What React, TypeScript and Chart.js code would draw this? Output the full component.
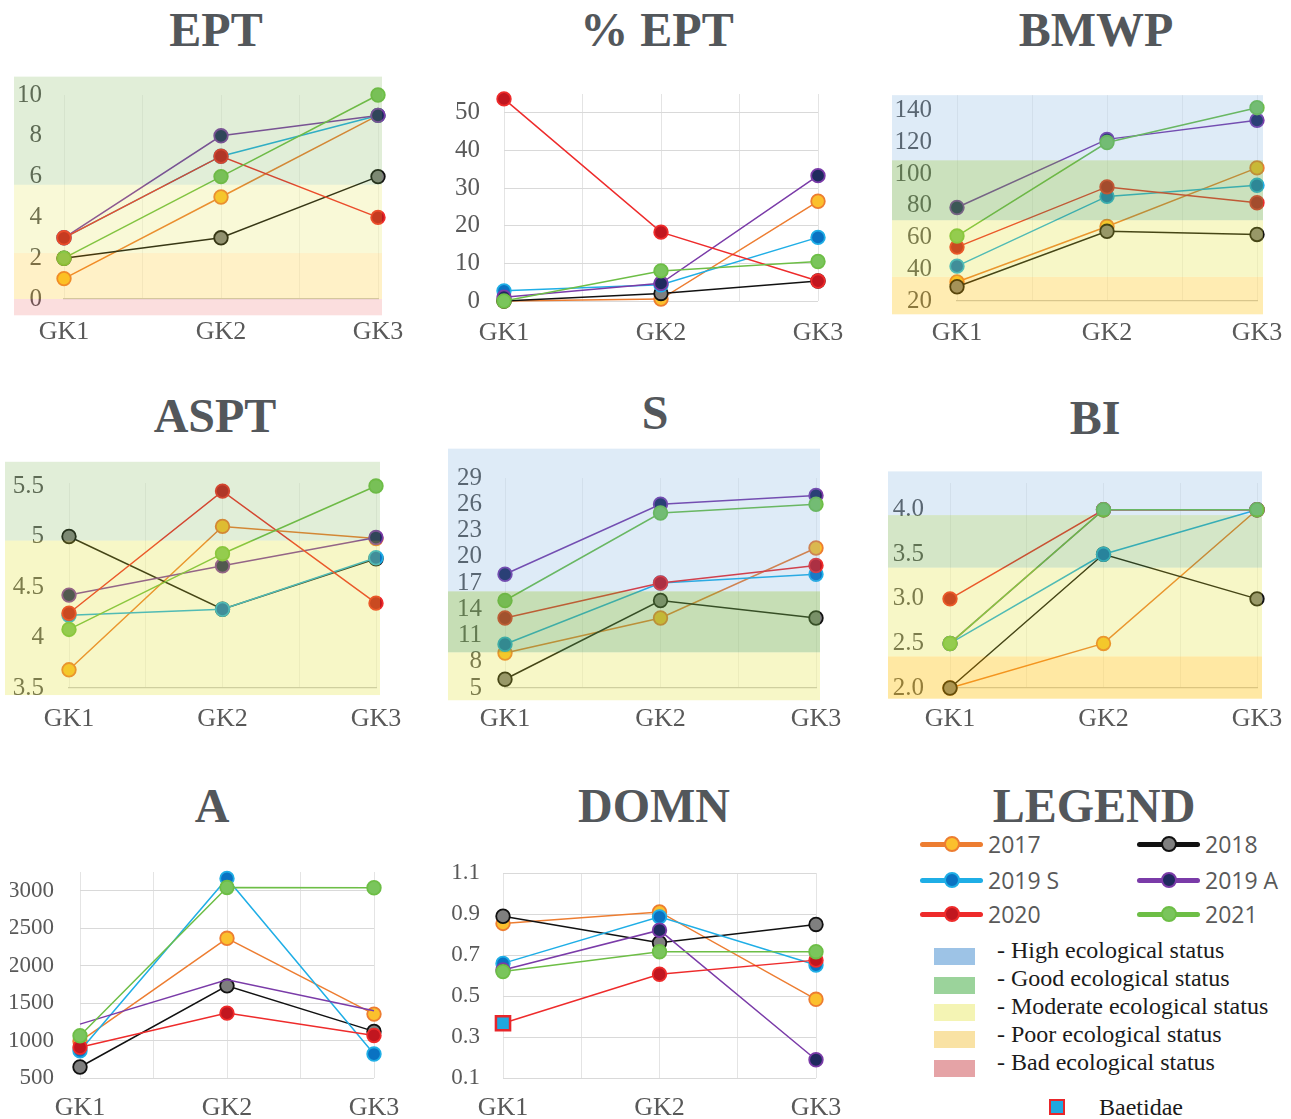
import React, { useEffect, useRef } from "react";
import { Chart, registerables } from "chart.js";

Chart.register(...registerables);

// ---------- data ----------
const categories = ["GK1", "GK2", "GK3"];
const seriesNames = ["2017", "2018", "2019 S", "2019 A", "2020", "2021"];
const lineColors = ["#ED7D31", "#111111", "#1FAEE6", "#7A3BA8", "#EE2B2B", "#6DBE46"];
const pointColors = ["#FBC02D", "#7F7F7F", "#0A72C2", "#1F2A5E", "#C1161F", "#7AC55C"];
const baetidaeFill = "#1FA8E0";
const baetidaeBorder = "#E8262B";

// order of rows: 2017, 2018, 2019 S, 2019 A, 2020, 2021
const eptValues = [[1, 5, 9], [2, 3, 6], [3, 7, 9], [3, 8, 9], [3, 7, 4], [2, 6, 10]];
const eptTicks = [0, 2, 4, 6, 8, 10];

const pctEptValues = [[0, 0.5, 26.5], [0, 2, 5.3], [2.7, 4.3, 16.9], [1, 4.7, 33.3], [53.7, 18.3, 5.3], [0, 8, 10.5]];
const pctEptTicks = [0, 10, 20, 30, 40, 50];

const bmwpValues = [[32, 67, 104], [29, 64, 62], [42, 86, 93], [79, 122, 134], [54, 92, 82], [61, 120, 142]];
const bmwpTicks = [20, 40, 60, 80, 100, 120, 140];

const asptValues = [[3.68, 5.1, 4.98], [5.0, 4.28, 4.78], [4.22, 4.28, 4.79], [4.42, 4.71, 4.99], [4.24, 5.45, 4.34], [4.08, 4.83, 5.5]];
const asptTicks = [3.5, 4, 4.5, 5, 5.5];

const sValues = [[9, 13, 21], [6, 15, 13], [10, 17, 18], [18, 26, 27], [13, 17, 19], [15, 25, 26]];
const sTicks = [5, 8, 11, 14, 17, 20, 23, 26, 29];

const biValues = [[2, 2.5, 4], [2, 3.5, 3], [2.5, 3.5, 4], [2.5, 4, 4], [3, 4, 4], [2.5, 4, 4]];
const biTicks = [2, 2.5, 3, 3.5, 4];

const aValues = [[990, 2365, 1353], [647, 1730, 1122], [864, 3164, 820], [1219, 1810, 1397], [910, 1366, 1068], [1064, 3044, 3040]];
const aTicks = [500, 1000, 1500, 2000, 2500, 3000];

const domnValues = [[0.854, 0.91, 0.484], [0.889, 0.76, 0.849], [0.659, 0.886, 0.651], [0.627, 0.821, 0.189], [0.367, 0.606, 0.675], [0.619, 0.716, 0.716]];
const domnTicks = [0.1, 0.3, 0.5, 0.7, 0.9, 1.1];

const statusLabels = [
  "- High ecological status",
  "- Good ecological status",
  "- Moderate ecological status",
  "- Poor ecological status",
  "- Bad ecological status",
];
const statusSwatch = ["#9DC3E6", "#9BD39B", "#F4F4B4", "#F9E2A4", "#E5A3A6"];
const bandHues = [
  [91, 155, 213],
  [112, 173, 71],
  [225, 225, 40],
  [255, 192, 0],
  [230, 60, 60],
];

// status band limits (status index, from, to, opacity)
const eptBands = [
  { s: 4, from: -0.8, to: 0, a: 0.17 },
  { s: 3, from: 0, to: 2.25, a: 0.22 },
  { s: 2, from: 2.25, to: 5.6, a: 0.19 },
  { s: 1, from: 5.6, to: 10.9, a: 0.21 },
];
const bmwpBands = [
  { s: 3, from: 11.6, to: 35.2, a: 0.3 },
  { s: 2, from: 35.2, to: 71, a: 0.26 },
  { s: 1, from: 71, to: 108.8, a: 0.36 },
  { s: 0, from: 108.8, to: 149.9, a: 0.2 },
];
const asptBands = [
  { s: 2, from: 3.43, to: 4.96, a: 0.26 },
  { s: 1, from: 4.96, to: 5.74, a: 0.21 },
];
const sBands = [
  { s: 2, from: 3.6, to: 9.08, a: 0.26 },
  { s: 1, from: 9.08, to: 16.05, a: 0.4 },
  { s: 0, from: 16.05, to: 32.35, a: 0.2 },
];
const biBands = [
  { s: 3, from: 1.88, to: 2.355, a: 0.36 },
  { s: 2, from: 2.355, to: 3.35, a: 0.26 },
  { s: 1, from: 3.35, to: 3.94, a: 0.3 },
  { s: 0, from: 3.94, to: 4.43, a: 0.2 },
];

// ---------- layout ----------
type BandDef = { s: number; from: number; to: number; a: number };
type PanelDef = {
  title: string;
  titleX: number;
  titleY: number;
  values: number[][];
  ticks: number[];
  min: number;
  max: number;
  decimals: number;
  area: number[];
  bandX: number[];
  bands: BandDef[];
  gridded: boolean;
  tickSize: number;
  yPad: number;
  xPad: number;
  baetidae?: boolean;
  hidden?: number[];
};

const panels: PanelDef[] = [
  { title: "EPT", titleX: 216, titleY: 30, values: eptValues, ticks: eptTicks, min: 0, max: 10, decimals: -1, area: [64, 378, 95, 299], bandX: [14, 382], bands: eptBands, gridded: false, tickSize: 25, yPad: 22, xPad: 18 },
  { title: "% EPT", titleX: 657, titleY: 30, values: pctEptValues, ticks: pctEptTicks, min: 0, max: 55, decimals: -1, area: [504, 818, 94, 301], bandX: [0, 0], bands: [], gridded: true, tickSize: 25, yPad: 24, xPad: 17 },
  { title: "BMWP", titleX: 1096, titleY: 30, values: bmwpValues, ticks: bmwpTicks, min: 20, max: 150, decimals: -1, area: [957, 1257, 95, 301], bandX: [892, 1263], bands: bmwpBands, gridded: false, tickSize: 25, yPad: 25, xPad: 17 },
  { title: "ASPT", titleX: 215, titleY: 416, values: asptValues, ticks: asptTicks, min: 3.5, max: 5.53, decimals: -1, area: [69, 376, 483, 688], bandX: [5, 380], bands: asptBands, gridded: false, tickSize: 25, yPad: 25, xPad: 16 },
  { title: "S", titleX: 655, titleY: 413, values: sValues, ticks: sTicks, min: 5, max: 29, decimals: -1, area: [505, 816, 478, 688], bandX: [448, 820], bands: sBands, gridded: false, tickSize: 25, yPad: 23, xPad: 16 },
  { title: "BI", titleX: 1095, titleY: 418, values: biValues, ticks: biTicks, min: 2, max: 4.3, decimals: 1, area: [950, 1257, 483, 688], bandX: [888, 1262], bands: biBands, gridded: false, tickSize: 25, yPad: 26, xPad: 16 },
  { title: "A", titleX: 212, titleY: 806, values: aValues, ticks: aTicks, min: 500, max: 3250, decimals: -1, area: [80, 374, 872, 1078], bandX: [0, 0], bands: [], gridded: true, tickSize: 23, yPad: 26, xPad: 15, hidden: [3] },
  { title: "DOMN", titleX: 654, titleY: 806, values: domnValues, ticks: domnTicks, min: 0.1, max: 1.1, decimals: 1, area: [503, 816, 873, 1078], bandX: [0, 0], bands: [], gridded: true, tickSize: 23, yPad: 23, xPad: 15, baetidae: true },
];

const SERIF = '"Liberation Serif", "Times New Roman", serif';
const TICK_COLOR = "#595959";

function PanelChart({ p }: { p: PanelDef }) {
  const ref = useRef<HTMLCanvasElement | null>(null);
  const [x0, x1, y0, y1] = p.area;
  const left = Math.max(0, x0 - 70);
  const right = Math.min(1291, x1 + 36);
  const top = y0 - 30;
  const bottom = Math.min(1119, y1 + 42);
  const w = right - left;
  const h = bottom - top;

  useEffect(() => {
    const canvas = ref.current;
    if (!canvas) return;
    const xTicks: number[] = [];
    categories.forEach((_, i) => {
      xTicks.push(i + 1);
      if (i < categories.length - 1) xTicks.push(i + 1.5);
    });
    const datasets = seriesNames.map((name, i) => {
      const isB = !!p.baetidae && i === 4;
      const hide = !!p.hidden && p.hidden.includes(i);
      return {
        label: name,
        data: p.values[i].map((v, j) => ({ x: j + 1, y: v })),
        borderColor: lineColors[i],
        borderWidth: 1.5,
        pointBackgroundColor: categories.map((_, j) => (isB && j === 0 ? baetidaeFill : pointColors[i])),
        pointBorderColor: categories.map((_, j) => (isB && j === 0 ? baetidaeBorder : lineColors[i])),
        pointBorderWidth: categories.map((_, j) => (isB && j === 0 ? 2.5 : 1.8)),
        pointRadius: categories.map((_, j) => (hide ? 0 : isB && j === 0 ? 10 : 6.8)),
        pointStyle: categories.map((_, j) => (isB && j === 0 ? "rect" : "circle")),
        order: seriesNames.length - 1 - i,
        tension: 0,
        fill: false,
        clip: false as any,
      };
    });
    const bandPlugin = {
      id: "statusBands",
      afterDraw(chart: any) {
        const ctx = chart.ctx;
        const ys = chart.scales.y;
        ctx.save();
        p.bands.forEach((b) => {
          const ya = ys.getPixelForValue(b.to);
          const yb = ys.getPixelForValue(b.from);
          const c = bandHues[b.s];
          ctx.fillStyle = `rgba(${c[0]},${c[1]},${c[2]},${b.a})`;
          ctx.fillRect(p.bandX[0] - left, ya, p.bandX[1] - p.bandX[0], yb - ya);
        });
        ctx.restore();
      },
    };
    const chart = new Chart(canvas, {
      type: "line",
      data: { datasets: datasets as any },
      options: {
        animation: false,
        responsive: false,
        events: [],
        layout: { padding: { left: 0, right: right - x1, top: y0 - top, bottom: 0 } },
        plugins: {
          legend: { display: false },
          tooltip: { enabled: false },
          title: { display: false },
        },
        scales: {
          x: {
            type: "linear",
            min: 1,
            max: categories.length,
            afterBuildTicks: (s: any) => {
              s.ticks = xTicks.map((v) => ({ value: v }));
            },
            afterFit: (s: any) => {
              s.height = bottom - y1;
            },
            ticks: {
              autoSkip: false,
              maxRotation: 0,
              padding: 0,
              color: TICK_COLOR,
              font: { family: SERIF, size: 26 },
              callback: (v: any) => (Number.isInteger(v) ? categories[v - 1] : ""),
            },
            grid: {
              color: p.gridded ? "#E4E4E4" : "rgba(0,0,0,0.06)",
              lineWidth: 1,
              drawTicks: true,
              tickLength: p.xPad,
              tickColor: "rgba(0,0,0,0)",
            },
            border: { display: !p.gridded, color: "#C9C9C9", width: 1.2 },
          },
          y: {
            type: "linear",
            min: p.min,
            max: p.max,
            afterBuildTicks: (s: any) => {
              s.ticks = p.ticks.map((v) => ({ value: v }));
            },
            afterFit: (s: any) => {
              s.width = x0 - left;
            },
            ticks: {
              autoSkip: false,
              padding: 0,
              color: TICK_COLOR,
              font: { family: SERIF, size: p.tickSize },
              callback: (v: any) => (p.decimals >= 0 ? Number(v).toFixed(p.decimals) : String(v)),
            },
            grid: {
              display: true,
              drawOnChartArea: p.gridded,
              color: "#D9D9D9",
              lineWidth: 1,
              drawTicks: true,
              tickLength: p.yPad,
              tickColor: "rgba(0,0,0,0)",
            },
            border: { display: false },
          },
        },
      },
      plugins: [bandPlugin],
    });
    return () => chart.destroy();
  }, []);

  return (
    <canvas
      ref={ref}
      width={w}
      height={h}
      style={{ position: "absolute", left, top, width: w, height: h }}
    />
  );
}

function Title({ text, cx, cy }: { text: string; cx: number; cy: number }) {
  return (
    <div
      style={{
        position: "absolute",
        left: cx - 200,
        top: cy - 24,
        width: 400,
        textAlign: "center",
        font: `bold 48px ${SERIF}`,
        lineHeight: "48px",
        color: "#53575B",
        whiteSpace: "nowrap",
      }}
    >
      {text}
    </div>
  );
}

const legendCols = [920, 1137];
const legendRows = [844, 880, 914];
const statusRows = [956, 985, 1012, 1039, 1068];
const statusTextRows = [950, 978, 1006, 1034, 1062];

export default function App() {
  return (
    <div
      style={{
        position: "absolute",
        left: 0,
        top: 0,
        width: 1291,
        height: 1119,
        overflow: "hidden",
        background: "#ffffff",
      }}
    >
      {panels.map((p) => (
        <PanelChart key={p.title} p={p} />
      ))}
      {panels.map((p) => (
        <Title key={"t" + p.title} text={p.title} cx={p.titleX} cy={p.titleY} />
      ))}
      <Title text="LEGEND" cx={1094} cy={806} />
      {seriesNames.map((name, i) => {
        const lx = legendCols[i % 2];
        const ly = legendRows[Math.floor(i / 2)];
        return (
          <React.Fragment key={"lg" + name}>
            <div
              style={{
                position: "absolute",
                left: lx,
                top: ly - 2.5,
                width: 63,
                height: 5,
                borderRadius: 2.5,
                background: lineColors[i],
              }}
            />
            <div
              style={{
                position: "absolute",
                left: lx + 32 - 8,
                top: ly - 8,
                width: 16,
                height: 16,
                boxSizing: "border-box",
                border: `2px solid ${lineColors[i]}`,
                borderRadius: "50%",
                background: pointColors[i],
              }}
            />
            <div
              style={{
                position: "absolute",
                left: lx + 68,
                top: ly - 12,
                font: '23px "Open Sans", sans-serif',
                lineHeight: "24px",
                color: "#595959",
                whiteSpace: "nowrap",
              }}
            >
              {name}
            </div>
          </React.Fragment>
        );
      })}
      {statusLabels.map((label, i) => (
        <React.Fragment key={"st" + i}>
          <div
            style={{
              position: "absolute",
              left: 934,
              top: statusRows[i] - 8.5,
              width: 41,
              height: 17,
              background: statusSwatch[i],
            }}
          />
          <div
            style={{
              position: "absolute",
              left: 997,
              top: statusTextRows[i] - 12,
              font: `24px ${SERIF}`,
              lineHeight: "24px",
              color: "#1A1A1A",
              whiteSpace: "nowrap",
            }}
          >
            {label}
          </div>
        </React.Fragment>
      ))}
      <div
        style={{
          position: "absolute",
          left: 1049,
          top: 1099,
          width: 16,
          height: 16,
          boxSizing: "border-box",
          border: `2.5px solid ${baetidaeBorder}`,
          background: baetidaeFill,
        }}
      />
      <div
        style={{
          position: "absolute",
          left: 1099,
          top: 1107 - 12,
          font: `24px ${SERIF}`,
          lineHeight: "24px",
          color: "#1A1A1A",
          whiteSpace: "nowrap",
        }}
      >
        Baetidae
      </div>
    </div>
  );
}
